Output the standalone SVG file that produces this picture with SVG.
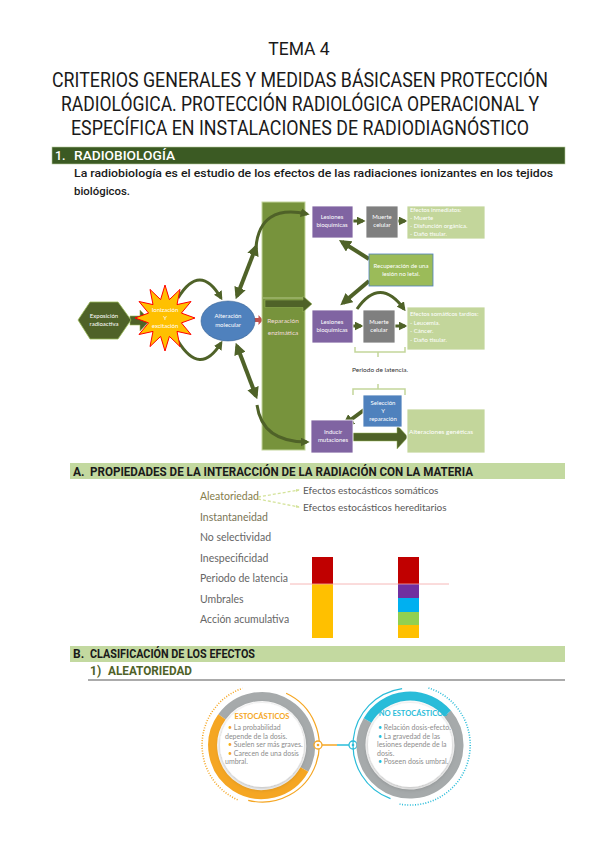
<svg xmlns="http://www.w3.org/2000/svg" width="599" height="848" viewBox="0 0 599 848">
<defs>
<style>
.t{font-family:Roboto,"Liberation Sans",sans-serif;font-size:19.5px;fill:#1a1a1a;text-anchor:middle}
.hd{font-family:Roboto,"Liberation Sans",sans-serif;font-weight:700;font-size:12px;fill:#1a1a1a}
.bt{font-family:Lato,"Liberation Sans",sans-serif;font-size:6px;fill:#fff;text-anchor:middle}
.bl{font-family:Lato,"Liberation Sans",sans-serif;font-size:6px;fill:#fff}
.ar{stroke:#4f6228;fill:none}
.pr{font-family:Lato,"Open Sans",sans-serif;font-size:10.5px;fill:#666}
.ct{font-family:Lato,"Open Sans",sans-serif;font-size:7px;fill:#8c8c8c}
.pu{fill:#8064a2;stroke:#fff;stroke-width:0.8}
.gr{fill:#7f7f7f;stroke:#fff;stroke-width:0.8}
.lg{fill:#c3d69b;stroke:#fff;stroke-width:0.8}
</style>
<marker id="ah" viewBox="0 0 10 10" refX="7" refY="5" markerWidth="3" markerHeight="3" orient="auto-start-reverse"><path d="M0,0L10,5L0,10z" fill="#4f6228"/></marker>
<marker id="lh" viewBox="0 0 10 10" refX="8" refY="5" markerWidth="3" markerHeight="3" orient="auto"><path d="M0,1L10,5L0,9z" fill="#d4e39a"/></marker>
<filter id="sh" x="-30%" y="-30%" width="160%" height="160%"><feDropShadow dx="0" dy="1.5" stdDeviation="2.5" flood-color="#000" flood-opacity="0.3"/></filter>
</defs>
<rect width="599" height="848" fill="#fff"/>

<g id="title">
<text class="t" x="299" y="55" style="font-size:17.5px">TEMA 4</text>
<text class="t" x="300" y="87" textLength="496" lengthAdjust="spacingAndGlyphs">CRITERIOS GENERALES Y MEDIDAS BÁSICASEN PROTECCIÓN</text>
<text class="t" x="300" y="111" textLength="478" lengthAdjust="spacingAndGlyphs">RADIOLÓGICA. PROTECCIÓN RADIOLÓGICA OPERACIONAL Y</text>
<text class="t" x="300" y="135" textLength="458" lengthAdjust="spacingAndGlyphs">ESPECÍFICA EN INSTALACIONES DE RADIODIAGNÓSTICO</text>
</g>

<g id="sec1">
<rect x="52" y="147" width="513" height="17" fill="#3b5a23" stroke="#b5c99a" stroke-width="0.6"/>
<text x="55" y="160" style="font-family:Roboto,'Liberation Sans',sans-serif;font-size:12.5px;font-weight:500;fill:#fff">1.</text>
<text x="74" y="160" textLength="101" lengthAdjust="spacingAndGlyphs" style="font-family:Roboto,'Liberation Sans',sans-serif;font-size:12.5px;font-weight:500;fill:#fff">RADIOBIOLOGÍA</text>
<text x="74" y="177" textLength="479" lengthAdjust="spacingAndGlyphs" style="font-family:Roboto,'Liberation Sans',sans-serif;font-size:11.5px;font-weight:500;fill:#1a1a1a">La radiobiología es el estudio de los efectos de las radiaciones ionizantes en los tejidos</text>
<text x="74" y="195" textLength="56" lengthAdjust="spacingAndGlyphs" style="font-family:Roboto,'Liberation Sans',sans-serif;font-size:11.5px;font-weight:500;fill:#1a1a1a">biológicos.</text>
</g>

<g id="connectors">
<polygon points="130,316 140,316 140,310 150,320.5 140,331 140,325 130,325" fill="#4f6228" stroke="#9bbb59" stroke-width="0.6"/>
<path class="ar" d="M178,298 Q200,262 221,298" stroke-width="3" marker-end="url(#ah)"/>
<path class="ar" d="M178,341 Q200,377 221,343" stroke-width="3" marker-end="url(#ah)"/>
<line class="ar" x1="237" y1="296" x2="256" y2="247" stroke-width="4" marker-start="url(#ah)" marker-end="url(#ah)"/>
<line class="ar" x1="237" y1="346" x2="256" y2="396" stroke-width="4" marker-start="url(#ah)" marker-end="url(#ah)"/>
<polygon points="249,320 253.5,315 253.5,318 258.5,318 258.5,315 263,320 258.5,325 258.5,322 253.5,322 253.5,325" fill="#c0504d"/>
</g>

<g id="column">
<rect x="262" y="202" width="43" height="248" fill="#77933c" stroke="#c3d69b" stroke-width="1"/>
<line x1="263" y1="298" x2="304" y2="298" stroke="#c3d69b" stroke-width="0.8"/>
<text class="bt" x="283" y="323" style="fill:#f2dcdb;font-size:6.5px">Reparación</text>
<text class="bt" x="283" y="335" style="fill:#f2dcdb;font-size:6.5px">enzimática</text>
</g>

<g id="connectors2">
<path class="ar" d="M256,247 Q260,204 307,214" stroke-width="3" marker-end="url(#ah)"/>
<path class="ar" d="M257,405 Q262,442 307,442" stroke-width="3" marker-end="url(#ah)"/>
<polygon points="265,300 303,300 303,296 312,304 303,312 303,307.5 265,307.5" fill="#4f6228" stroke="#9bbb59" stroke-width="0.5"/>
<line class="ar" x1="353" y1="221" x2="363" y2="221" stroke-width="3" marker-end="url(#ah)"/>
<line class="ar" x1="398" y1="221" x2="405" y2="221" stroke-width="3" marker-end="url(#ah)"/>
<line class="ar" x1="353" y1="326" x2="361" y2="326" stroke-width="3" marker-end="url(#ah)"/>
<line class="ar" x1="395" y1="326" x2="405" y2="326" stroke-width="3" marker-end="url(#ah)"/>
<line class="ar" x1="369" y1="259" x2="342" y2="242" stroke-width="4" marker-end="url(#ah)"/>
<line class="ar" x1="369" y1="281" x2="343" y2="303" stroke-width="4" marker-end="url(#ah)"/>
<path class="ar" d="M357,309 Q380,276 404,309" stroke-width="3" marker-end="url(#ah)"/>
<line class="ar" x1="364" y1="410" x2="345" y2="424" stroke-width="4" marker-end="url(#ah)"/>
<polygon points="353,433 397,433 397,425 408,437 397,449 397,441 353,441" fill="#4f6228" stroke="#9bbb59" stroke-width="0.5"/>
<path d="M355,347 L355,352 L378,352 L378,357 M378,352 L405,352 L405,347" fill="none" stroke="#c3d69b" stroke-width="1.5"/>
<path d="M353,395 L353,389 L378,389 L378,384 M378,389 L405,389 L405,395" fill="none" stroke="#c3d69b" stroke-width="1.5"/>
</g>

<g id="n-exposicion">
<polygon points="78,320 90,302 118,302 131,320 118,339 90,339" fill="#4f6228" stroke="#9bbb59" stroke-width="0.8"/>
<text class="bt" x="104" y="318">Exposición</text>
<text class="bt" x="104" y="326">radioactiva</text>
</g>

<g id="n-ionizacion">
<polygon points="165,285 169.4,299.6 180,289.4 177,304.6 191,301.5 181.4,313.1 195,318 181.4,322.9 191,334.5 177,331.4 180,346.6 169.4,336.4 165,351 160.6,336.4 150,346.6 153,331.4 139,334.5 148.6,322.9 135,318 148.6,313.1 139,301.5 153,304.6 150,289.4 160.6,299.6" fill="#ffc000" stroke="#ff0000" stroke-width="1"/>
<text class="bt" x="165" y="312">Ionización</text>
<text class="bt" x="165" y="320">Y</text>
<text class="bt" x="165" y="328">excitación</text>
</g>

<g id="n-alteracion">
<ellipse cx="228" cy="321" rx="27" ry="20" fill="#4f81bd" stroke="#3a6596" stroke-width="0.6"/>
<text class="bt" x="228" y="318">Alteración</text>
<text class="bt" x="228" y="327">molecular</text>
</g>

<g id="n-lesiones1">
<rect class="pu" x="312" y="206" width="41" height="32"/>
<text class="bt" x="332" y="219">Lesiones</text>
<text class="bt" x="332" y="227">bioquímicas</text>
</g>
<g id="n-muerte1">
<rect class="gr" x="366" y="206" width="32" height="32"/>
<text class="bt" x="382" y="219">Muerte</text>
<text class="bt" x="382" y="227">celular</text>
</g>
<g id="n-inmediatos">
<rect class="lg" x="407" y="206" width="78" height="33"/>
<text class="bl" x="410" y="212">Efectos inmediatos:</text>
<text class="bl" x="410" y="220">-   Muerte</text>
<text class="bl" x="410" y="228">-   Disfunción orgánica.</text>
<text class="bl" x="410" y="236">-   Daño tisular.</text>
</g>
<g id="n-recuperacion">
<rect x="369" y="254" width="64" height="32" fill="#9bbb59" stroke="#4f81bd" stroke-width="0.8"/>
<text class="bt" x="401" y="268">Recuperación de una</text>
<text class="bt" x="401" y="276">lesión no letal.</text>
</g>
<g id="n-lesiones2">
<rect class="pu" x="312" y="310" width="41" height="33"/>
<text class="bt" x="332" y="324">Lesiones</text>
<text class="bt" x="332" y="332">bioquímicas</text>
</g>
<g id="n-muerte2">
<rect class="gr" x="363" y="310" width="32" height="33"/>
<text class="bt" x="379" y="324">Muerte</text>
<text class="bt" x="379" y="332">celular</text>
</g>
<g id="n-tardios">
<rect class="lg" x="407" y="307" width="78" height="43"/>
<text class="bl" x="410" y="316">Efectos somáticos tardíos:</text>
<text class="bl" x="410" y="325">-   Leucemia.</text>
<text class="bl" x="410" y="333">-   Cáncer.</text>
<text class="bl" x="410" y="342">-   Daño tisular.</text>
</g>
<g id="n-latencia">
<text x="352" y="372" style="font-family:Lato,'Liberation Sans',sans-serif;font-size:6.5px;fill:#333">Periodo de latencia.</text>
</g>
<g id="n-seleccion">
<rect x="363" y="395" width="39" height="32" fill="#4f81bd" stroke="#fff" stroke-width="0.8"/>
<text class="bt" x="383" y="405">Selección</text>
<text class="bt" x="383" y="413">Y</text>
<text class="bt" x="383" y="421">reparación</text>
</g>
<g id="n-inducir">
<rect class="pu" x="311" y="420" width="42" height="33"/>
<text class="bt" x="333" y="434">Inducir</text>
<text class="bt" x="333" y="442">mutaciones</text>
</g>
<g id="n-geneticas">
<rect class="lg" x="407" y="409" width="78" height="44"/>
<text class="bl" x="409" y="434" style="font-size:6.5px">Alteraciones genéticas</text>
</g>

<g id="secA">
<rect x="70" y="463" width="495" height="16" fill="#c3d9a0"/>
<text class="hd" x="73" y="476">A.</text>
<text class="hd" x="90" y="476" textLength="383" lengthAdjust="spacingAndGlyphs">PROPIEDADES DE LA INTERACCIÓN DE LA RADIACIÓN CON LA MATERIA</text>
</g>

<g id="propiedades">
<text class="pr" x="200" y="500" style="fill:#857d4c">Aleatoriedad</text>
<text class="pr" x="200" y="521" style="fill:#7a7556">Instantaneidad</text>
<text class="pr" x="200" y="541">No selectividad</text>
<text class="pr" x="200" y="562">Inespecificidad</text>
<text class="pr" x="200" y="582">Periodo de latencia</text>
<text class="pr" x="200" y="603">Umbrales</text>
<text class="pr" x="200" y="623">Acción acumulativa</text>
<line x1="258" y1="497" x2="299" y2="490" stroke="#d4e39a" stroke-width="1.3" stroke-dasharray="3,2" marker-end="url(#lh)"/>
<line x1="258" y1="499" x2="299" y2="507" stroke="#d4e39a" stroke-width="1.3" stroke-dasharray="3,2" marker-end="url(#lh)"/>
<text class="pr" x="303" y="494" style="fill:#595959;font-size:10px">Efectos estocásticos somáticos</text>
<text class="pr" x="303" y="511" style="fill:#595959;font-size:10px">Efectos estocásticos hereditarios</text>
</g>

<g id="barras">
<rect x="312" y="557" width="21" height="27" fill="#c00000"/>
<rect x="312" y="584" width="21" height="54" fill="#ffc000"/>
<rect x="398" y="557" width="21" height="27" fill="#c00000"/>
<rect x="398" y="584" width="21" height="14" fill="#7030a0"/>
<rect x="398" y="598" width="21" height="14" fill="#00b0f0"/>
<rect x="398" y="612" width="21" height="13" fill="#92d050"/>
<rect x="398" y="625" width="21" height="13" fill="#ffc000"/>
<line x1="290" y1="584" x2="449" y2="584" stroke="#f4a6a6" stroke-width="0.8"/>
</g>

<g id="secB">
<rect x="70" y="646" width="495" height="16" fill="#c3d9a0"/>
<text class="hd" x="73" y="658">B.</text>
<text class="hd" x="90" y="658" textLength="165" lengthAdjust="spacingAndGlyphs">CLASIFICACIÓN DE LOS EFECTOS</text>
<text class="hd" x="90" y="675" style="fill:#4f6228">1)</text>
<text class="hd" x="108" y="675" textLength="84" lengthAdjust="spacingAndGlyphs" style="fill:#4f6228">ALEATORIEDAD</text>
<line x1="88" y1="680" x2="565" y2="680" stroke="#595959" stroke-width="1.2"/>
</g>

<g id="n-estocasticos">
<path d="M286.1,693.3 A57,57 0 0 1 248.2,800.3" fill="none" stroke="#f5a623" stroke-width="1.2"/>
<path d="M237.6,799.8 A60,60 0 0 1 242.5,688.3" fill="none" stroke="#f5a623" stroke-width="1.6" stroke-dasharray="1,1.6"/>
<path d="M221.9,716.9 A49,49 0 0 1 304.4,769.5" fill="none" stroke="#a6aaab" stroke-width="9"/>
<path d="M304.4,769.5 A49,49 0 1 1 221.9,716.9" fill="none" stroke="#f5a623" stroke-width="9"/>
<circle cx="262" cy="745" r="42" fill="#fff" filter="url(#sh)"/>
<text x="262" y="719" text-anchor="middle" style="font-family:Lato,'Open Sans',sans-serif;font-size:7.5px;font-weight:700;fill:#f5a623">ESTOCÁSTICOS</text>
<text class="ct" x="228" y="730"><tspan fill="#f5a623">•</tspan>  La probabilidad</text>
<text class="ct" x="225" y="738.5">depende de la dosis.</text>
<text class="ct" x="228" y="747"><tspan fill="#f5a623">•</tspan>  Suelen ser más graves.</text>
<text class="ct" x="228" y="755.5"><tspan fill="#f5a623">•</tspan>  Carecen de una dosis</text>
<text class="ct" x="225" y="764">umbral.</text>
</g>

<g id="connector-circles">
<line x1="322" y1="745" x2="337" y2="745" stroke="#f5a623" stroke-width="1.5"/>
<line x1="337" y1="745" x2="349" y2="745" stroke="#29bcd9" stroke-width="1.5"/>
<circle cx="318" cy="745" r="4" fill="#fff" stroke="#f5a623" stroke-width="1.3"/>
<circle cx="318" cy="745" r="1.3" fill="#f5a623"/>
<circle cx="353" cy="745" r="4" fill="#fff" stroke="#29bcd9" stroke-width="1.3"/>
<circle cx="353" cy="745" r="1.3" fill="#29bcd9"/>
</g>

<g id="n-noestocasticos">
<path d="M390.5,798.6 A57,57 0 0 1 402.1,688.6" fill="none" stroke="#29bcd9" stroke-width="1.2"/>
<path d="M428.5,687.9 A60,60 0 0 1 399.6,804.1" fill="none" stroke="#29bcd9" stroke-width="1.6" stroke-dasharray="1,1.6"/>
<path d="M447.5,713.5 A49,49 0 1 1 367.6,720.5" fill="none" stroke="#a6aaab" stroke-width="9"/>
<path d="M367.6,720.5 A49,49 0 0 1 447.5,713.5" fill="none" stroke="#29bcd9" stroke-width="9"/>
<circle cx="410" cy="745" r="42" fill="#fff" filter="url(#sh)"/>
<text x="413" y="716" text-anchor="middle" style="font-family:Lato,'Open Sans',sans-serif;font-size:7.5px;font-weight:700;fill:#29bcd9">NO ESTOCÁSTICOS</text>
<text class="ct" x="378" y="730"><tspan fill="#29bcd9">•</tspan>  Relación dosis-efecto.</text>
<text class="ct" x="378" y="738.5"><tspan fill="#29bcd9">•</tspan>  La gravedad de las</text>
<text class="ct" x="377" y="747">lesiones depende de la</text>
<text class="ct" x="377" y="755.5">dosis.</text>
<text class="ct" x="378" y="764"><tspan fill="#29bcd9">•</tspan>  Poseen dosis umbral.</text>
</g>
</svg>
